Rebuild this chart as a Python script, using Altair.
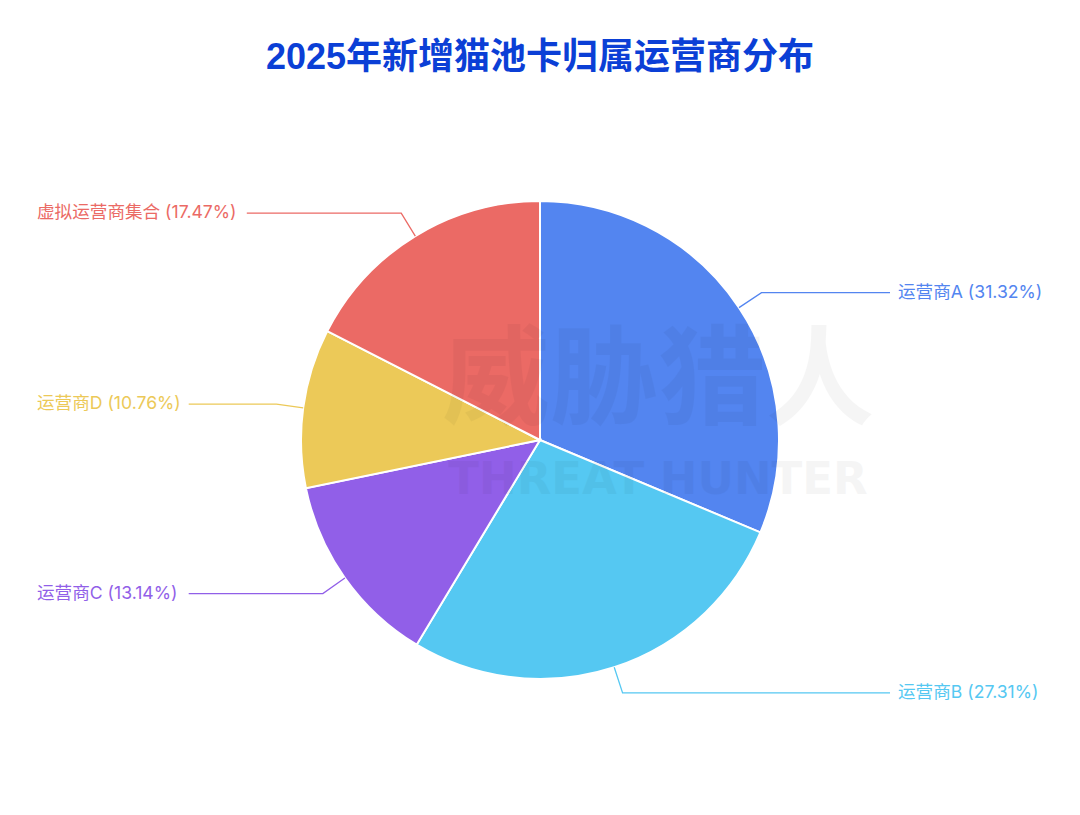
import altair as alt
import pandas as pd
import numpy as np

# ---- data ----
categories = ["运营商A", "运营商B", "运营商C", "运营商D", "虚拟运营商集合"]
shares = [31.32, 27.31, 13.14, 10.76, 17.47]
colors = ["#5385F0", "#55C8F2", "#915FE8", "#ECC958", "#EB6A65"]
title_text = "2025年新增猫池卡归属运营商分布"
watermark_cn = "威胁猎人"
watermark_en = "THREAT HUNTER"

# ---- layout (style) ----
W, H = 1064, 799
CX, CY, R = 532, 432, 239
L1 = 27
RIGHT_LINE_END = 882
LEFT_EDGE = 29
GAP = 7
FONT = "Inter, Noto Sans CJK SC, sans-serif"
TITLE_FONT = "Liberation Sans, Noto Sans CJK SC, sans-serif"
LABEL_SIZE = 17.6


def est_width(s):
    w = 0.0
    for ch in s:
        if ord(ch) > 0x2E80:
            w += 17.4
        elif ch.isdigit():
            w += 11.0
        elif ch.isupper():
            w += 11.5
        elif ch == "%":
            w += 14
        elif ch in "()":
            w += 7.0
        elif ch == ".":
            w += 4.5
        else:
            w += 4.5
    return w


total = sum(shares)
cum = np.cumsum(shares)
mids = (cum - np.array(shares) / 2) / total * 2 * np.pi

pie_df = pd.DataFrame({"cat": categories, "share": shares, "idx": range(len(categories))})

line_rows, label_rows = [], []
for i, (cat, sh, a) in enumerate(zip(categories, shares, mids)):
    s, c = np.sin(a), np.cos(a)
    x0, y0 = CX + R * s, CY - R * c
    x1, y1 = CX + (R + L1) * s, CY - (R + L1) * c
    label = f"{cat} ({sh:.2f}%)"
    if s > 0:
        x2 = RIGHT_LINE_END
        tx = x2 + 8
    else:
        x2 = LEFT_EDGE + est_width(label) + GAP
        tx = LEFT_EDGE
    for j, (px, py) in enumerate([(x0, y0), (x1, y1), (x2, y1)]):
        line_rows.append({"cat": cat, "k": j, "x": px, "y": py})
    label_rows.append({"cat": cat, "label": label, "x": tx, "y": y1})

line_df = pd.DataFrame(line_rows)
label_df = pd.DataFrame(label_rows)

xs = alt.Scale(domain=[0, W], range=[0, W], nice=False, zero=False)
ys = alt.Scale(domain=[0, H], range=[0, H], nice=False, zero=False)
color = alt.Color("cat:N", scale=alt.Scale(domain=categories, range=colors), legend=None)

pie = alt.Chart(pie_df).mark_arc(outerRadius=R, stroke="white", strokeWidth=2).encode(
    theta=alt.Theta("share:Q", stack=True),
    color=color,
    order=alt.Order("idx:Q", sort="ascending"),
    x=alt.value(CX),
    y=alt.value(CY),
)

wm_df = pd.DataFrame({
    "t": [watermark_cn, watermark_en],
    "x": [650, 650],
    "y": [376, 472],
})
wm_cn = alt.Chart(wm_df.iloc[[0]]).mark_text(
    font="Noto Sans CJK SC", fontSize=108, fontWeight="bold", color="#000000", opacity=0.035,
    align="center", baseline="middle",
).encode(x=alt.X("x:Q", scale=xs, axis=None), y=alt.Y("y:Q", scale=ys, axis=None), text="t:N")
wm_en = alt.Chart(wm_df.iloc[[1]]).mark_text(
    font="DejaVu Sans", fontSize=45, fontWeight="bold", color="#000000", opacity=0.035,
    align="center", baseline="middle",
).encode(x=alt.X("x:Q", scale=xs, axis=None), y=alt.Y("y:Q", scale=ys, axis=None), text="t:N")

lines = alt.Chart(line_df).mark_line(strokeWidth=1.3).encode(
    x=alt.X("x:Q", scale=xs, axis=None),
    y=alt.Y("y:Q", scale=ys, axis=None),
    color=color,
    detail="cat:N",
    order="k:Q",
)

labels = alt.Chart(label_df).mark_text(
    font=FONT, fontSize=LABEL_SIZE, align="left", baseline="middle",
).encode(
    x=alt.X("x:Q", scale=xs, axis=None),
    y=alt.Y("y:Q", scale=ys, axis=None),
    text="label:N",
    color=color,
)

title_df = pd.DataFrame({"t": [title_text], "x": [532], "y": [50]})
title = alt.Chart(title_df).mark_text(
    font=TITLE_FONT, fontSize=36, fontWeight="bold", color="#0B3FD6", align="center", baseline="middle",
).encode(x=alt.X("x:Q", scale=xs, axis=None), y=alt.Y("y:Q", scale=ys, axis=None), text="t:N")

chart = alt.layer(pie, wm_cn, wm_en, lines, labels, title).properties(
    width=W, height=H, padding=0, autosize=alt.AutoSizeParams(type="none"),
    background="white",
).configure_view(stroke=None)

chart.save("out.html", embed_options={"renderer": "svg", "actions": False})
